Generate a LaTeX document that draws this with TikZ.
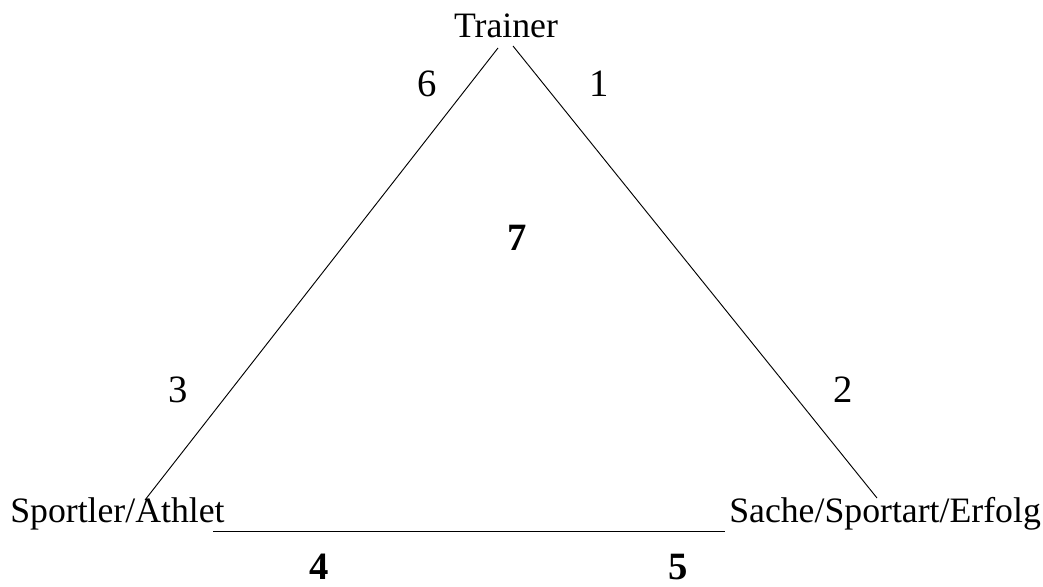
\documentclass[tikz,border=0pt]{standalone}
\usepackage{fontspec}
\setmainfont{Liberation Serif}
\usetikzlibrary{positioning}

\begin{document}
\begin{tikzpicture}[
    x=0.75pt, y=-0.75pt,
    corner/.style={inner sep=0pt, font=\fontsize{26.8}{30}\selectfont},
    num/.style={inner sep=0pt, font=\fontsize{29}{33}\selectfont},
    boldnum/.style={num, font=\fontsize{29}{33}\selectfont\bfseries},
    edge/.style={line width=0.7pt}
]
\useasboundingbox (0,0) rectangle (1043,586);

% Corners
\node[corner, anchor=base] (trainer) at (506,37) {Trainer};
\node[corner, anchor=base west] (athlet) at (10,522) {Sportler/Athlet};
\node[corner, anchor=base west] (sache) at (729,522) {Sache/Sportart/Erfolg};

% Line ends
\coordinate (leftTop) at (498,48);
\coordinate (leftBot) at (145,500);
\coordinate (rightTop) at (513,46);
\coordinate (rightBot) at (877,498);
\coordinate (baseLeft) at (213,531);
\coordinate (baseRight) at (725,531);

\draw[edge] (leftTop) -- (leftBot);
\draw[edge] (rightTop) -- (rightBot);
\draw[edge] (baseLeft) -- (baseRight);

% Numbers
\node[num] (n6) at (427,84) {6};
\node[num] (n1) at (599,84) {1};
\node[num] (n3) at (178,390) {3};
\node[num] (n2) at (843,390) {2};
\node[boldnum] (n7) at (517,238) {7};
\node[boldnum] (n4) at (319,567) {4};
\node[boldnum] (n5) at (678,567) {5};

\end{tikzpicture}
\end{document}
